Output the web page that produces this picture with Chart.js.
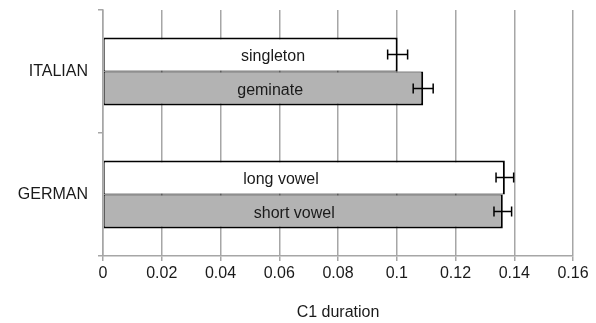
<!DOCTYPE html>
<html>
<head>
<meta charset="utf-8">
<script src="https://cdn.jsdelivr.net/npm/chart.js@4/dist/chart.umd.min.js"></script>
<style>
html,body{margin:0;padding:0;background:#fff;}
#wrap{width:596px;height:323px;position:relative;}
</style>
</head>
<body>
<div id="wrap"><canvas id="c" width="596" height="323"></canvas></div>
<script>
// ---- data ----
const categories = ['ITALIAN', 'GERMAN'];
const seriesAValues = [0.1003, 0.1368];
const seriesALabels = ['singleton', 'long vowel'];
const seriesAErrors = [0.0034, 0.0030];
const seriesBValues = [0.1090, 0.1361];
const seriesBLabels = ['geminate', 'short vowel'];
const seriesBErrors = [0.0034, 0.0030];
const xTicks = [0, 0.02, 0.04, 0.06, 0.08, 0.1, 0.12, 0.14, 0.16];
const axisTitle = 'C1 duration';

// ---- style (label anchor positions along value axis, as placed in the original) ----
const labelAnchors = [[0.0579, 0.0606], [0.0569, 0.0651]];
const FONT = "'Liberation Sans', Arial, sans-serif";
const GRID = '#a6a6a6';
const TEXT = '#1a1a1a';

const barLabelPlugin = {
  id: 'barLabels',
  afterDatasetsDraw(chart) {
    const ctx = chart.ctx;
    const x = chart.scales.x;
    ctx.save();
    chart.data.datasets.forEach((ds, di) => {
      const meta = chart.getDatasetMeta(di);
      meta.data.forEach((bar, i) => {
        const v = ds.data[i], e = ds.errors[i];
        const x1 = x.getPixelForValue(v - e), x2 = x.getPixelForValue(v + e);
        const y = bar.y;
        ctx.strokeStyle = '#000';
        ctx.lineWidth = 1.5;
        ctx.beginPath();
        ctx.moveTo(x1, y); ctx.lineTo(x2, y);
        ctx.moveTo(x1, y - 5); ctx.lineTo(x1, y + 5);
        ctx.moveTo(x2, y - 5); ctx.lineTo(x2, y + 5);
        ctx.stroke();
      });
    });
    ctx.font = '16px ' + FONT;
    ctx.fillStyle = TEXT;
    ctx.textAlign = 'center';
    ctx.textBaseline = 'middle';
    chart.data.datasets.forEach((ds, di) => {
      const meta = chart.getDatasetMeta(di);
      meta.data.forEach((bar, i) => {
        const lx = x.getPixelForValue(labelAnchors[di][i]);
        ctx.fillText(ds.barLabels[i], lx, bar.y + 2);
      });
    });
    ctx.restore();
  }
};

new Chart(document.getElementById('c'), {
  type: 'bar',
  data: {
    labels: categories,
    datasets: [
      { data: seriesAValues, errors: seriesAErrors, barLabels: seriesALabels,
        backgroundColor: '#ffffff', borderColor: '#000000',
        borderWidth: {top: 2, bottom: 1, left: 1, right: 2}, borderSkipped: false },
      { data: seriesBValues, errors: seriesBErrors, barLabels: seriesBLabels,
        backgroundColor: '#b3b3b3', borderColor: '#000000',
        borderWidth: {top: 1, bottom: 2, left: 1, right: 2}, borderSkipped: false }
    ]
  },
  options: {
    indexAxis: 'y',
    responsive: false,
    animation: false,
    layout: { padding: { top: 10, right: 23, left: 0, bottom: 0 } },
    plugins: { legend: { display: false }, tooltip: { enabled: false } },
    datasets: { bar: { categoryPercentage: 0.553, barPercentage: 1 } },
    scales: {
      x: {
        min: 0, max: 0.16,
        afterBuildTicks: (s) => { s.ticks = xTicks.map(v => ({ value: v })); },
        afterFit: (s) => { s.height = 67; },
        grid: { color: GRID, lineWidth: 1.5, tickLength: 5, drawTicks: true },
        border: { color: GRID, width: 1.5 },
        ticks: {
          color: TEXT, font: { family: FONT, size: 16 }, padding: 3,
          callback: (v) => String(Number(v.toFixed(2)))
        },
        title: { display: true, text: axisTitle, color: TEXT,
                 font: { family: FONT, size: 16 }, padding: { top: 0, bottom: 1 } }
      },
      y: {
        afterFit: (s) => { s.width = 103; s.paddingTop = 0; s.paddingBottom = 0; },
        grid: { display: true, drawOnChartArea: false, color: GRID, lineWidth: 1.5, tickLength: 5, offset: true },
        border: { color: GRID, width: 1.5 },
        ticks: { color: TEXT, font: { family: FONT, size: 16 }, padding: 10 }
      }
    }
  },
  plugins: [barLabelPlugin]
});
</script>
</body>
</html>
